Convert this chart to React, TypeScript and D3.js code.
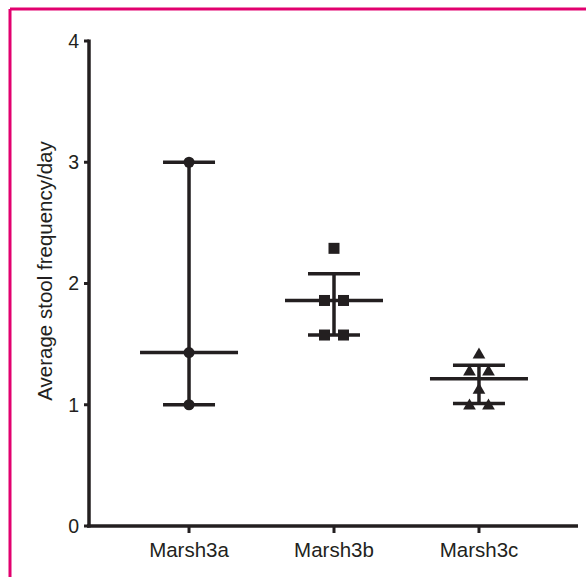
import React from "react";
import * as d3 from "d3";

const categories = ["Marsh3a", "Marsh3b", "Marsh3c"];
const markers = ["circle", "square", "triangle"];
const pointsA = [3.0, 1.43, 1.0];
const pointsB = [2.29, 1.86, 1.86, 1.575, 1.575];
const pointsC = [1.42, 1.28, 1.28, 1.13, 1.0, 1.0];
const means = [1.43, 1.86, 1.215];
const errLow = [1.0, 1.575, 1.01];
const errHigh = [3.0, 2.08, 1.325];
const yTicks = [0, 1, 2, 3, 4];

const W = 586;
const H = 577;

export default function App() {
  const x = d3.scalePoint<string>().domain(categories).range([90, 578]).padding(0.683);
  const y = d3.scaleLinear().domain([0, 4]).range([526, 41]);
  const groups = [pointsA, pointsB, pointsC];
  const ink = "#231f20";
  const fs = 19.5;
  const fsL = 20.5;

  const marker = (type: string, cx: number, cy: number, key: string) => {
    if (type === "circle") return <circle key={key} cx={cx} cy={cy} r={5.5} fill={ink} />;
    if (type === "square") return <rect key={key} x={cx - 5.5} y={cy - 5.5} width={11} height={11} fill={ink} />;
    const s = d3.symbol().type(d3.symbolTriangle).size(70)();
    return <path key={key} d={s as string} transform={`translate(${cx},${cy + 1})`} fill={ink} />;
  };

  return (
    <svg width={W} height={H} style={{ position: "absolute", left: 0, top: 0 }} fontFamily="'Liberation Sans', Arial, sans-serif">
      <rect x={0} y={0} width={W} height={H} fill="#fff" />
      {/* pink frame (left and top) */}
      <line x1={10} y1={9} x2={W} y2={9} stroke="#e2006f" strokeWidth={3} />
      <line x1={10} y1={9} x2={10} y2={H} stroke="#e2006f" strokeWidth={3} />

      {/* y axis */}
      <line x1={89} y1={y(4) - 1.5} x2={89} y2={y(0) + 1.5} stroke={ink} strokeWidth={3.5} />
      {yTicks.map((t) => (
        <g key={t}>
          <line x1={84} x2={89} y1={y(t)} y2={y(t)} stroke={ink} strokeWidth={3} />
          <text x={79} y={y(t)} dy="0.35em" textAnchor="end" fontSize={fs} fill={ink}>{t}</text>
        </g>
      ))}
      <text transform={`translate(52,${271}) rotate(-90)`} textAnchor="middle" fontSize={fsL} fill={ink}>
        Average stool frequency/day
      </text>

      {/* x axis */}
      <line x1={87} x2={578} y1={y(0)} y2={y(0)} stroke={ink} strokeWidth={3.5} />
      {categories.map((c) => (
        <g key={c}>
          <line x1={x(c)!} x2={x(c)!} y1={y(0)} y2={y(0) + 7} stroke={ink} strokeWidth={3} />
          <text x={x(c)!} y={557} textAnchor="middle" fontSize={fsL} fill={ink}>{c}</text>
        </g>
      ))}

      {/* error bars & means */}
      {categories.map((c, i) => {
        const cx = x(c)!;
        return (
          <g key={c} stroke={ink} strokeWidth={3.5}>
            <line x1={cx} x2={cx} y1={y(errHigh[i])} y2={y(errLow[i])} />
            <line x1={cx - 26} x2={cx + 26} y1={y(errHigh[i])} y2={y(errHigh[i])} />
            <line x1={cx - 26} x2={cx + 26} y1={y(errLow[i])} y2={y(errLow[i])} />
            <line x1={cx - 49} x2={cx + 49} y1={y(means[i])} y2={y(means[i])} />
          </g>
        );
      })}

      {/* points */}
      {groups.map((pts, gi) => {
        const cx = x(categories[gi])!;
        const counts = d3.rollup(pts, (v) => v.length, (d) => d);
        const seen = new Map<number, number>();
        return pts.map((v, j) => {
          const n = counts.get(v) || 1;
          const k = seen.get(v) || 0;
          seen.set(v, k + 1);
          const off = n > 1 ? (k - (n - 1) / 2) * 19 : 0;
          return marker(markers[gi], cx + off, y(v), `${gi}-${j}`);
        });
      })}
    </svg>
  );
}
